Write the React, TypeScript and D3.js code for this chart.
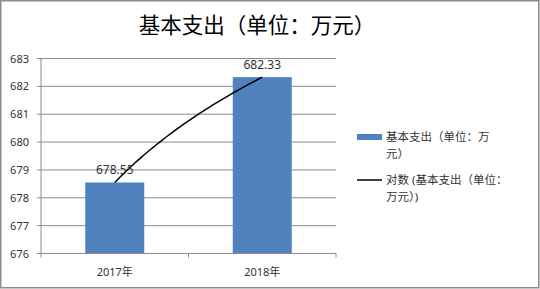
import React from "react";
import * as d3 from "d3";

const categories = ["2017年", "2018年"];
const values = [678.55, 682.33];
const yTicks = [676, 677, 678, 679, 680, 681, 682, 683];
const title = "基本支出（单位：万元）";
const legendBar = ["基本支出（单位：万", "元）"];
const legendLine = ["对数 (基本支出（单位：", "万元）)"];

const W = 540;
const H = 289;
const FONT = "'Noto Sans', 'Noto Sans CJK SC', sans-serif";

export default function App() {
  const left = 41;
  const right = 336;
  const top = 58.5;
  const bottom = 253.5;

  const x = d3.scaleBand<string>().domain(categories).range([left, right]).paddingInner(0.6).paddingOuter(0.3);
  const y = d3.scaleLinear().domain([676, 683]).range([bottom, top]);
  const bw = x.bandwidth();

  // logarithmic trendline fit: y = a + b ln(i)
  const xs = values.map((_, i) => Math.log(i + 1));
  const mx = d3.mean(xs)!;
  const my = d3.mean(values)!;
  const b = d3.sum(xs.map((v, i) => (v - mx) * (values[i] - my))) / d3.sum(xs.map((v) => (v - mx) * (v - mx)));
  const a = my - b * mx;
  const idx = d3.scaleLinear().domain([1, values.length]).range([x(categories[0])! + bw / 2, x(categories[categories.length - 1])! + bw / 2]);
  const samples = d3.range(1, values.length + 0.0001, 0.02);
  const line = d3.line<number>().x((t) => idx(t)).y((t) => y(a + b * Math.log(t)));

  const step = x.step();
  const boundaries = categories.map((c) => x(c)! + bw / 2 - step / 2).concat([right]);

  return (
    <svg width={W} height={H} style={{ position: "absolute", left: 0, top: 0, background: "#fff" }}>
      <rect x={0.75} y={0.75} width={W - 2} height={H - 2} fill="#fff" stroke="#8c8c8c" strokeWidth={1.5} />
      <text x={257} y={33} textAnchor="middle" fontFamily="'Noto Sans CJK SC', sans-serif" fontSize={21.5} fill="#000">{title}</text>
      {yTicks.map((t) => (
        <g key={t}>
          {t !== 676 && <line x1={left} x2={right} y1={y(t)} y2={y(t)} stroke="#8c8c8c" strokeWidth={1} />}
          <line x1={left - 4} x2={left} y1={y(t)} y2={y(t)} stroke="#8c8c8c" />
          <text x={29} y={y(t) + 4} textAnchor="end" fontFamily={FONT} fontSize={11} fill="#333">{t}</text>
        </g>
      ))}
      <line x1={left} x2={left} y1={top} y2={bottom} stroke="#8c8c8c" />
      {categories.map((c, i) => (
        <rect key={c} x={x(c)!} y={y(values[i])} width={bw} height={bottom - y(values[i])} fill="#4f81bd" />
      ))}
      <line x1={left} x2={right} y1={bottom} y2={bottom} stroke="#8c8c8c" />
      {boundaries.map((bx, i) => (
        <line key={i} x1={bx} x2={bx} y1={bottom} y2={bottom + 4} stroke="#8c8c8c" />
      ))}
      {categories.map((c) => (
        <text key={c} x={x(c)! + bw / 2} y={276} textAnchor="middle" fontFamily={FONT} fontSize={11} fill="#333">{c}</text>
      ))}
      <path d={line(samples)!} fill="none" stroke="#000" strokeWidth={1.5} />
      {categories.map((c, i) => (
        <text key={c} x={x(c)! + bw / 2} y={y(values[i]) - 8} textAnchor="middle" fontFamily={FONT} fontSize={12} fill="#333">{values[i].toFixed(2)}</text>
      ))}
      <rect x={357} y={134} width={25} height={6} fill="#4f81bd" />
      {legendBar.map((s, i) => (
        <text key={i} x={386} y={141 + i * 17} fontFamily={FONT} fontSize={11.5} fill="#333">{s}</text>
      ))}
      <line x1={357} x2={382} y1={180} y2={180} stroke="#000" strokeWidth={1.5} />
      {legendLine.map((s, i) => (
        <text key={i} x={386} y={184 + i * 17} fontFamily={FONT} fontSize={11.5} fill="#333">{s}</text>
      ))}
    </svg>
  );
}
